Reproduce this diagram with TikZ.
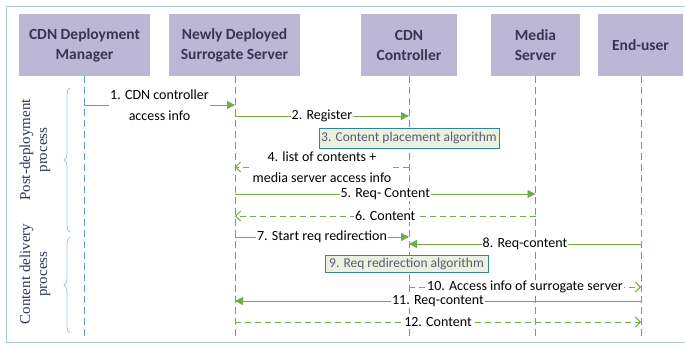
\documentclass[tikz,border=0pt]{standalone}
\usepackage{fontspec}
\setmainfont{Carlito}
\newfontfamily\serifface{Liberation Serif}
\usetikzlibrary{arrows.meta,decorations.pathreplacing}
\definecolor{hdrfill}{RGB}{189,183,214}
\definecolor{hdrtext}{RGB}{55,53,80}
\definecolor{lifeblue}{RGB}{91,155,213}
\definecolor{msggreen}{RGB}{112,173,71}
\definecolor{frameblue}{RGB}{166,202,230}
\definecolor{algfill}{RGB}{235,241,222}
\definecolor{algborder}{RGB}{49,133,155}
\definecolor{algtext}{RGB}{90,90,120}
\definecolor{sidetext}{RGB}{45,55,90}
\begin{document}
\begin{tikzpicture}[x=1pt,y=-1pt,
  hdr/.style={fill=hdrfill, text=hdrtext, font=\bfseries\fontsize{15.5}{20}\selectfont, align=center, inner sep=0pt, minimum height=62pt},
  life/.style={lifeblue, line width=0.9pt, dash pattern=on 7pt off 4pt},
  msg/.style={msggreen, line width=0.9pt, -{Triangle[length=8pt,width=8pt]}},
  ret/.style={msggreen, line width=0.9pt, dash pattern=on 6pt off 4pt, -{Straight Barb[length=5pt,width=10pt]}},
  lbl/.style={fill=white, text=black, inner sep=1pt, font=\fontsize{14}{21}\selectfont, align=center},
  alg/.style={fill=algfill, draw=algborder, line width=0.9pt, text=algtext, font=\fontsize{13.5}{16}\selectfont, inner sep=0pt},
  brc/.style={frameblue, line width=0.9pt, decorate, decoration={brace, amplitude=6pt}},
  side/.style={rotate=90, text=sidetext, font=\serifface\fontsize{15}{17}\selectfont, align=center}
]
\useasboundingbox (0,0) rectangle (685,346);
% frame
\draw[frameblue, line width=1pt] (685,6) -- (6,6) -- (6,342) -- (685,342);
% headers
\node[hdr, minimum width=131pt] (mgr) at (84.5,45) {CDN Deployment\\Manager};
\node[hdr, minimum width=131pt] (srg) at (234.5,45) {Newly Deployed\\Surrogate Server};
\node[hdr, minimum width=96pt] (ctl) at (409,45) {CDN\\Controller};
\node[hdr, minimum width=89pt] (med) at (535.5,45) {Media\\Server};
\node[hdr, minimum width=85pt] (usr) at (640.5,45) {End-user};
% lifelines
\coordinate (mgrB) at (84,340);
\coordinate (srgB) at (235,340);
\coordinate (ctlB) at (409,340);
\coordinate (medB) at (535.5,340);
\coordinate (usrB) at (641,340);
\draw[life] (mgrB |- mgr.south) -- (mgrB);
\draw[life] (srgB |- srg.south) -- (srgB);
\draw[life] (ctlB |- ctl.south) -- (ctlB);
\draw[life] (medB |- med.south) -- (medB);
\draw[life] (usrB |- usr.south) -- (usrB);
% braces and side labels
\coordinate (b1t) at (70,88);
\coordinate (b1b) at (70,232);
\coordinate (b2t) at (70,237);
\coordinate (b2b) at (70,333);
\draw[brc] (b1b) -- (b1t);
\draw[brc] (b2b) -- (b2t);
\node[side] (postdep) at (35,150) {Post-deployment\\process};
\node[side] (contdel) at (35,274) {Content delivery\\process};
% messages
\draw[msg] (mgrB |- 0,105) -- node[lbl] (m1) {1. CDN controller\\access info} (srgB |- 0,105);
\draw[msg] (srgB |- 0,116) -- node[lbl] (m2) {2. Register} (ctlB |- 0,116);
\node[alg, minimum width=180pt, minimum height=20pt] (alg3) at (409,138) {3. Content placement algorithm};
\draw[ret] (ctlB |- 0,167) -- node[lbl] (m4) {4. list of contents +\\media server access info} (srgB |- 0,167);
\draw[msg] (srgB |- 0,194) -- node[lbl] (m5) {5. Req- Content} (medB |- 0,194);
\draw[ret] (medB |- 0,216) -- node[lbl] (m6) {6. Content} (srgB |- 0,216);
\draw[msg] (srgB |- 0,237) -- node[lbl] (m7) {7. Start req redirection} (ctlB |- 0,237);
\draw[msg] (usrB |- 0,244) -- node[lbl] (m8) {8. Req-content} (ctlB |- 0,244);
\node[alg, minimum width=163pt, minimum height=17pt] (alg9) at (406.5,263.5) {9. Req redirection algorithm};
\draw[ret] (ctlB |- 0,287) -- node[lbl] (m10) {10. Access info of surrogate server} (usrB |- 0,287);
\draw[msg] (usrB |- 0,301) -- node[lbl] (m11) {11. Req-content} (srgB |- 0,301);
\draw[ret] (srgB |- 0,322) -- node[lbl] (m12) {12. Content} (usrB |- 0,322);
\end{tikzpicture}
\end{document}
